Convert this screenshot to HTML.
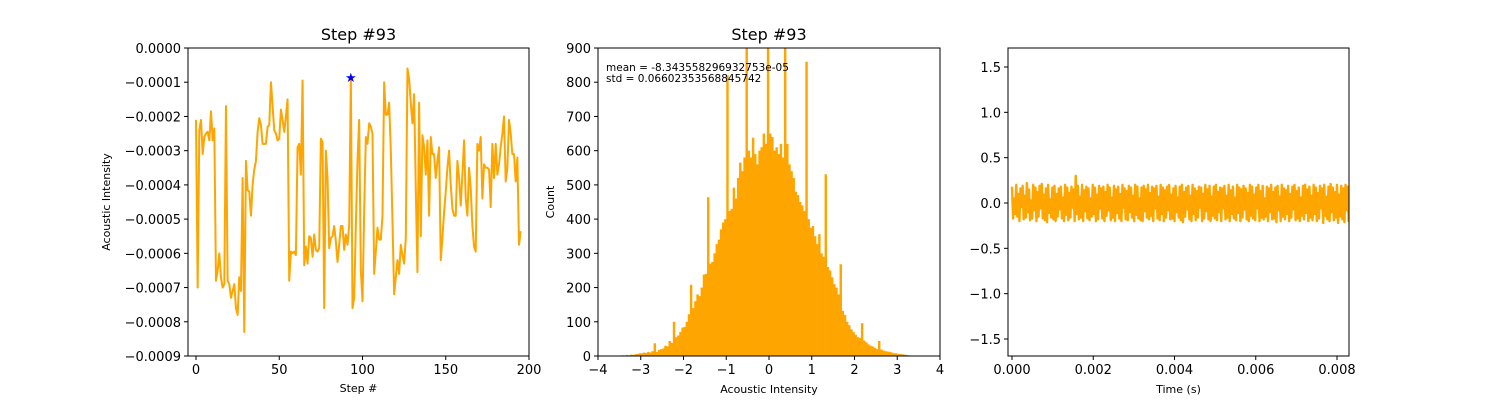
<!DOCTYPE html>
<html><head><meta charset="utf-8">
<style>
html,body{margin:0;padding:0;background:#fff;}
svg{display:block;font-family:"DejaVu Sans","Liberation Sans",sans-serif;}
</style></head>
<body>
<svg id="fig" width="1500" height="400" viewBox="0 0 1500 400" xmlns="http://www.w3.org/2000/svg"></svg>
<script>
// ---------- Chart 1 data: acoustic intensity per step (x1e-4) ----------
const stepValues = [-2.1,-7.0,-2.4,-2.1,-3.1,-2.6,-2.5,-2.45,-2.7,-1.85,-2.7,-2.35,-6.8,-6.5,-6.0,-6.7,-7.0,-6.9,-1.7,-6.8,
-6.9,-7.3,-7.1,-6.9,-7.6,-7.8,-6.7,-7.1,-3.8,-8.3,-3.3,-4.15,-4.2,-4.9,-4.0,-3.55,-3.3,-2.45,-2.05,-2.25,
-2.8,-2.8,-2.8,-2.3,-2.25,-1.0,-1.7,-2.4,-2.5,-2.7,-2.65,-1.8,-2.1,-2.45,-2.0,-1.5,-6.8,-5.95,-6.0,-5.95,
-6.05,-2.9,-2.8,-3.7,-0.95,-6.35,-5.8,-6.3,-5.5,-5.55,-6.1,-5.45,-5.9,-5.95,-5.85,-2.65,-2.75,-7.6,-3.0,-3.8,
-5.85,-5.55,-5.5,-5.2,-5.65,-6.25,-5.75,-5.2,-5.2,-5.9,-5.45,-5.75,-5.2,-0.87,-7.6,-7.3,-5.2,-3.3,-2.1,-6.5,
-7.4,-4.8,-2.6,-2.8,-2.2,-2.3,-2.5,-6.6,-5.95,-5.25,-5.6,-5.6,-4.9,-1.0,-1.95,-1.95,-1.6,-3.0,-5.05,-7.2,
-6.7,-6.2,-6.6,-5.75,-6.05,-6.3,-5.55,-0.6,-0.9,-1.6,-2.2,-1.35,-4.1,-6.55,-1.6,-5.5,-2.55,-2.9,-3.7,-2.7,
-4.9,-2.6,-3.1,-3.1,-3.8,-3.3,-2.9,-6.2,-5.55,-4.8,-4.2,-3.5,-3.0,-4.0,-4.7,-4.9,-4.9,-3.3,-3.8,-4.6,
-3.7,-2.7,-4.4,-4.9,-3.5,-4.1,-5.2,-5.8,-5.95,-2.8,-3.0,-2.6,-4.4,-3.4,-3.5,-3.5,-3.55,-4.65,-2.8,-3.8,
-2.8,-3.7,-3.4,-2.9,-2.5,-2.0,-3.9,-3.5,-2.1,-2.5,-3.1,-3.1,-3.9,-3.2,-5.75,-5.35];
const markedStep = 93;
const xTicks1 = [0,50,100,150,200];
const yTicks1 = [0,-1,-2,-3,-4,-5,-6,-7,-8,-9];
const yTickLabels1 = ["0.0000","\u22120.0001","\u22120.0002","\u22120.0003","\u22120.0004","\u22120.0005","\u22120.0006","\u22120.0007","\u22120.0008","\u22120.0009"];

// ---------- Chart 2 data: histogram ----------
const binStart = -4, binWidth = 0.05;
const binCounts = [0,0,0,0,0,0,1,0,1,0,
1,2,1,3,2,4,3,5,6,8,
8,10,9,12,10,14,37,12,18,20,
22,30,28,44,38,100,55,60,70,83,
85,100,122,208,140,160,180,175,200,238,
240,464,270,275,300,327,340,370,390,400,
820,424,430,492,460,520,565,540,580,900,
600,580,638,590,560,600,610,650,620,900,
650,640,600,610,590,620,580,900,620,560,
540,520,480,470,450,440,424,860,400,375,
380,350,327,356,300,290,531,260,250,230,
210,200,180,268,132,120,100,90,78,70,
62,55,53,96,45,40,34,30,28,24,
20,44,19,16,14,13,12,10,8,8,
6,6,5,4,3,2,1,1,0,0,
0,0,0,0,0,0,0,0,0,0];
const xTicks2 = [-4,-3,-2,-1,0,1,2,3,4];
const yTicks2 = [0,100,200,300,400,500,600,700,800,900];

// ---------- Chart 3 data: waveform ----------
const duration = 0.00834;
const wave = [0.18,-0.17,0.05,-0.12,0.2,-0.15,0.1,-0.2,0.16,-0.04,0.19,-0.18,0.08,-0.16,0.22,-0.1,0.15,-0.19,0.03,-0.17,
0.2,-0.08,0.17,-0.2,0.12,-0.15,0.19,-0.06,0.21,-0.17,0.09,-0.19,0.16,-0.21,0.2,-0.11,0.04,-0.16,0.17,-0.18,
0.19,-0.2,0.1,-0.15,0.16,-0.07,0.18,-0.17,0.06,-0.2,0.2,-0.13,0.17,-0.19,0.11,-0.16,0.18,-0.05,0.15,-0.2,
0.3,-0.12,0.19,-0.18,0.07,-0.16,0.2,-0.2,0.14,-0.09,0.18,-0.17,0.16,-0.19,0.05,-0.15,0.2,-0.12,0.17,-0.2,
0.09,-0.18,0.19,-0.06,0.16,-0.17,0.18,-0.2,0.12,-0.14,0.2,-0.08,0.17,-0.19,0.06,-0.16,0.19,-0.2,0.15,-0.11,
0.18,-0.17,0.1,-0.2,0.2,-0.05,0.16,-0.18,0.13,-0.19,0.19,-0.1,0.17,-0.16,0.08,-0.2,0.2,-0.13,0.18,-0.17,
0.05,-0.19,0.17,-0.2,0.19,-0.09,0.15,-0.16,0.2,-0.18,0.11,-0.14,0.18,-0.2,0.16,-0.06,0.19,-0.17,0.07,-0.19,
0.2,-0.12,0.17,-0.2,0.14,-0.16,0.18,-0.08,0.2,-0.18,0.09,-0.17,0.16,-0.2,0.19,-0.1,0.06,-0.16,0.18,-0.19,
0.2,-0.21,0.12,-0.15,0.17,-0.07,0.19,-0.18,0.08,-0.2,0.2,-0.12,0.16,-0.19,0.13,-0.16,0.18,-0.05,0.17,-0.2,
0.1,-0.17,0.2,-0.09,0.15,-0.18,0.19,-0.2,0.07,-0.14,0.18,-0.17,0.2,-0.19,0.12,-0.1,0.17,-0.2,0.16,-0.06,
0.19,-0.18,0.08,-0.16,0.2,-0.2,0.14,-0.12,0.18,-0.17,0.06,-0.19,0.2,-0.11,0.17,-0.2,0.15,-0.16,0.19,-0.07,
0.16,-0.18,0.11,-0.2,0.2,-0.14,0.18,-0.17,0.09,-0.19,0.17,-0.06,0.2,-0.2,0.13,-0.16,0.19,-0.18,0.05,-0.15,
0.18,-0.2,0.16,-0.1,0.2,-0.18,0.12,-0.17,0.17,-0.21,0.19,-0.08,0.07,-0.2,0.2,-0.15,0.16,-0.18,0.14,-0.12,
0.19,-0.2,0.1,-0.16,0.18,-0.07,0.2,-0.19,0.13,-0.17,0.17,-0.2,0.06,-0.14,0.19,-0.18,0.2,-0.11,0.15,-0.2,
0.18,-0.16,0.08,-0.19,0.2,-0.12,0.17,-0.2,0.11,-0.17,0.19,-0.06,0.16,-0.22,0.2,-0.14,0.07,-0.18,0.18,-0.2,
0.21,-0.1,0.17,-0.19,0.12,-0.16,0.2,-0.22,0.09,-0.15,0.19,-0.18,0.16,-0.21,0.2,-0.08,0.18,-0.2,0.14,-0.05];
const xTicks3 = [0,0.002,0.004,0.006,0.008];
const xTickLabels3 = ["0.000","0.002","0.004","0.006","0.008"];
const yTicks3 = [-1.5,-1.0,-0.5,0.0,0.5,1.0,1.5];
const yTickLabels3 = ["\u22121.5","\u22121.0","\u22120.5","0.0","0.5","1.0","1.5"];

const NS = "http://www.w3.org/2000/svg";
const svg = document.getElementById('fig');
function mk(tag, attrs, parent){
  const e = document.createElementNS(NS, tag);
  for (const k in attrs) e.setAttribute(k, attrs[k]);
  (parent||svg).appendChild(e);
  return e;
}
function txt(s, x, y, size, anchor, parent){
  const t = mk('text', {x:x, y:y, 'font-size':size, 'text-anchor':anchor||'middle', fill:'#000'}, parent);
  t.textContent = s;
  return t;
}
const ORANGE = '#ffa500';

// ---------- Chart 1 ----------
(function(){
  const L=188,R=529,T=48,B=356;
  const sx = v => 196 + v*(529-196)/200;
  const sy = v => 48 + (-v)*(356-48)/9;
  const g = mk('g', {});
  
  
  const pts = stepValues.map((v,i)=>sx(i).toFixed(2)+','+sy(v).toFixed(2)).join(' ');
  const line = mk('polyline', {points:pts, fill:'none', stroke:ORANGE, 'stroke-width':2, 'stroke-linejoin':'round'}, g);
  
  
  const cx = sx(markedStep), cy = sy(stepValues[markedStep]);
  const star = mk('text', {x:cx, y:cy+4, 'font-size':13, fill:'#0000ff', 'text-anchor':'middle'}, g);
  star.textContent = '\u2605';
  
  
  const frame = mk('rect', {x:L, y:T, width:R-L, height:B-T, fill:'none', stroke:'#000', 'stroke-width':1}, g);
  
  
  xTicks1.forEach(v=>{
    const x=sx(v);
    mk('line',{x1:x,y1:B,x2:x,y2:B+4,stroke:'#000'},g);
    const t = txt(String(v), x, B+18, 13, 'middle', g);
    
    
  });
  yTicks1.forEach((v,i)=>{
    const y=sy(v);
    mk('line',{x1:L-4,y1:y,x2:L,y2:y,stroke:'#000'},g);
    const t = txt(yTickLabels1[i], L-7, y+5, 13, 'end', g);
    
    
  });
  const ti = txt('Step #93', (L+R)/2, 40, 16, 'middle', g);
  
  
  const xl = txt('Step #', (L+R)/2, 392, 11, 'middle', g);
  
  
  const yl = txt('Acoustic Intensity', 0, 0, 11, 'middle', g);
  yl.setAttribute('transform','translate(110,202) rotate(-90)');
  
  
})();

// ---------- Chart 2 ----------
(function(){
  const L=598,R=940,T=48,B=356;
  const sx = v => 598 + (v+4)*(940-598)/8;
  const sy = v => 356 - v*(356-48)/900;
  const g = mk('g', {});
  
  
  const clip = mk('clipPath',{id:'c2'},g);
  mk('rect',{x:L,y:T,width:R-L,height:B-T},clip);
  const bars = mk('g',{'clip-path':'url(#c2)'},g);
  binCounts.forEach((c,i)=>{
    if(c<=0) return;
    const x0 = sx(binStart+i*binWidth), x1 = sx(binStart+(i+1)*binWidth);
    const r = mk('rect',{x:x0.toFixed(2), y:sy(c).toFixed(2), width:(x1-x0+0.3).toFixed(2), height:(B-sy(c)).toFixed(2), fill:ORANGE}, bars);
    
    
  });
  const frame = mk('rect', {x:L, y:T, width:R-L, height:B-T, fill:'none', stroke:'#000', 'stroke-width':1}, g);
  
  
  xTicks2.forEach(v=>{
    const x=sx(v);
    mk('line',{x1:x,y1:B,x2:x,y2:B+4,stroke:'#000'},g);
    const t = txt(v<0?'\u2212'+Math.abs(v):String(v), x, B+18, 13, 'middle', g);
    
    
  });
  yTicks2.forEach(v=>{
    const y=sy(v);
    mk('line',{x1:L-4,y1:y,x2:L,y2:y,stroke:'#000'},g);
    const t = txt(String(v), L-7, y+5, 13, 'end', g);
    
    
  });
  const m = txt('mean = -8.343558296932753e-05', 606, 71, 10.5, 'start', g);
  
  
  const s = txt('std = 0.06602353568845742', 606, 82, 10.5, 'start', g);
  
  
  const ti = txt('Step #93', (L+R)/2, 40, 16, 'middle', g);
  
  
  const xl = txt('Acoustic Intensity', (L+R)/2, 393, 11, 'middle', g);
  
  
  const yl = txt('Count', 0, 0, 11, 'middle', g);
  yl.setAttribute('transform','translate(554,202) rotate(-90)');
  
  
})();

// ---------- Chart 3 ----------
(function(){
  const L=1008,R=1349,T=48,B=356;
  const sx = v => 1012 + v*(1337-1012)/0.008;
  const sy = v => 203 - v*(339-67)/3;
  const g = mk('g', {});
  
  
  const clip = mk('clipPath',{id:'c3'},g);
  mk('rect',{x:L,y:T,width:R-L,height:B-T},clip);
  const n = wave.length;
  const pts = wave.map((v,i)=>sx(i*duration/(n-1)).toFixed(2)+','+sy(v).toFixed(2)).join(' ');
  const line = mk('polyline',{points:pts, fill:'none', stroke:ORANGE, 'stroke-width':2.4, 'stroke-linejoin':'round', 'clip-path':'url(#c3)'}, g);
  
  
  const frame = mk('rect', {x:L, y:T, width:R-L, height:B-T, fill:'none', stroke:'#000', 'stroke-width':1}, g);
  
  
  xTicks3.forEach((v,i)=>{
    const x=sx(v);
    mk('line',{x1:x,y1:B,x2:x,y2:B+4,stroke:'#000'},g);
    const t = txt(xTickLabels3[i], x, B+18, 13, 'middle', g);
    
    
  });
  yTicks3.forEach((v,i)=>{
    const y=sy(v);
    mk('line',{x1:L-4,y1:y,x2:L,y2:y,stroke:'#000'},g);
    const t = txt(yTickLabels3[i], L-7, y+5, 13, 'end', g);
    
    
  });
  const xl = txt('Time (s)', (L+R)/2, 393, 11, 'middle', g);
  
  
})();
</script>
</body></html>
